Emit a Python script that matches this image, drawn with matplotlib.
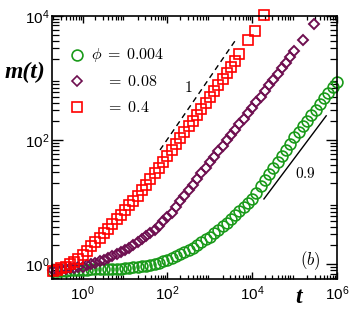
import matplotlib
matplotlib.use("Agg")
import matplotlib.pyplot as plt

plt.rcParams['font.family'] = ['Liberation Sans', 'DejaVu Sans']
plt.rcParams['mathtext.fontset'] = 'cm'

# time grid of the measurements (about ten per decade)
t_grid = [0.2, 0.251, 0.316, 0.398, 0.501, 0.631, 0.794, 1.0, 1.26, 1.58,
          2.0, 2.51, 3.16, 3.98, 5.01, 6.31, 7.94, 10, 12.6, 15.8,
          20.0, 25.1, 31.6, 39.8, 50.1, 63.1, 79.4, 100, 126, 158,
          200, 251, 316, 398, 501, 631, 794, 1000, 1260, 1580,
          2000, 2510, 3160, 3980, 5010, 6310, 7940, 1.0e4, 1.26e4, 1.58e4,
          2.0e4, 2.51e4, 3.16e4, 3.98e4, 5.01e4, 6.31e4, 7.94e4, 1.0e5, 1.26e5, 1.58e5,
          2.0e5, 2.51e5, 3.16e5, 3.98e5, 5.01e5, 6.31e5, 7.94e5, 1.0e6]

# phi = 0.4 (red squares)
t_red = t_grid[:45] + [8130, 11750, 19050]
m_red = [0.759, 0.807, 0.857, 0.912, 1.0, 1.096, 1.202, 1.403, 1.641, 1.919,
         2.239, 2.655, 3.148, 3.733, 4.426, 5.248, 6.252, 7.447, 8.872, 10.57,
         12.59, 15.49, 19.05, 23.44, 28.84, 35.48, 44.26, 55.21, 68.87, 85.9,
         107.2, 133.0, 165.2, 205.1, 254.7, 316.2, 394.5, 492.0, 613.8, 765.6,
         955, 1202, 1514, 1905, 2399, 4074, 5754, 10470]

# phi = 0.08 (purple diamonds)
t_pur = t_grid[:58] + [1.58e5, 2.95e5]
m_pur = [0.794, 0.811, 0.826, 0.843, 0.859, 0.877, 0.894, 0.912, 0.959, 1.007,
         1.059, 1.114, 1.17, 1.23, 1.334, 1.445, 1.567, 1.698, 1.841, 1.995,
         2.239, 2.512, 2.818, 3.162, 3.548, 4.169, 4.898, 5.754, 6.761, 8.318,
         10.23, 12.59, 15.49, 19.05, 23.44, 28.84, 35.48, 43.65, 53.46, 65.46,
         80.17, 98.2, 120.2, 147.2, 180.3, 220.8, 270.4, 331.1, 407.4, 501.2,
         616.6, 758.6, 933.3, 1153, 1426, 1762, 2178, 2692, 4140, 7413]

# phi = 0.004 (green circles)
t_grn = t_grid
m_grn = [0.759, 0.766, 0.774, 0.782, 0.789, 0.796, 0.805, 0.813, 0.817, 0.820,
         0.824, 0.828, 0.832, 0.836, 0.839, 0.843, 0.847, 0.851, 0.867, 0.883,
         0.899, 0.916, 0.933, 0.973, 1.014, 1.057, 1.102, 1.148, 1.236, 1.33,
         1.432, 1.542, 1.66, 1.837, 2.032, 2.249, 2.489, 2.754, 3.133, 3.565,
         4.055, 4.613, 5.248, 6.109, 7.112, 8.279, 9.638, 11.22, 14.13, 17.78,
         22.39, 28.18, 35.48, 44.46, 55.72, 69.82, 87.5, 109.6, 134.9, 166.0,
         204.2, 251.2, 309.0, 380.2, 467.7, 575.4, 707.9, 871]

# guide lines: slope 1 (dashed) and slope 0.9 (solid)
guide1_t = [67, 4100]
guide1_m = [69, 4100]
guide09_t = [1.9e4, 5.6e5]
guide09_m = [11.2, 245]

green = '#1a9a1a'
purple = '#6e0f50'
red = '#ff0000'

fig = plt.figure(figsize=(3.52, 3.11), dpi=100)
ax = fig.add_axes([0.148, 0.103, 0.809, 0.846])

ax.plot(t_grn, m_grn, 'o', ms=7.8, mfc='none', mec=green, mew=1.2, clip_on=False)
ax.plot(t_pur, m_pur, 'D', ms=5.6, mfc='none', mec=purple, mew=1.4, clip_on=False)
ax.plot(t_red, m_red, 's', ms=7.4, mfc='none', mec=red, mew=1.2, clip_on=False)

ax.plot(guide1_t, guide1_m, 'k--', lw=1.0, dashes=(4, 3))
ax.plot(guide09_t, guide09_m, 'k-', lw=1.0)

ax.set_xscale('log')
ax.set_yscale('log')
ax.set_xlim(0.19, 1e6)
ax.set_ylim(0.575, 1e4)
ax.set_xticks([1, 1e2, 1e4, 1e6])
ax.set_yticks([1, 1e2, 1e4])

for s in ax.spines.values():
    s.set_linewidth(1.2)
ax.tick_params(which='both', direction='in', top=True, right=True, labelsize=11)
ax.tick_params(axis='y', which='major', length=8, width=1.0, pad=2)
ax.tick_params(axis='y', which='minor', length=5, width=0.9)
ax.tick_params(axis='x', which='major', length=5, width=1.0, pad=4)
ax.tick_params(axis='x', which='minor', length=3, width=0.9)

# legend drawn by hand so the "=" signs line up
rows = [(0.852, 'o', green, 7.8, r'$\phi\;=\;0.004$', 0.137),
        (0.751, 'D', purple, 5.6, r'$=\;0.08$', 0.190),
        (0.652, 's', red, 7.4, r'$=\;0.4$', 0.190)]
for y, mk, c, ms, lab, xt in rows:
    ax.plot([0.088], [y], mk, ms=ms, mfc='none', mec=c, mew=1.2,
            transform=ax.transAxes, clip_on=False)
    ax.text(xt, y, lab, transform=ax.transAxes, fontsize=11.5, va='center')

ax.text(310, 690, r'$\mathbf{1}$', fontsize=11, ha='center', va='center')
ax.text(1.8e5, 29, r'$\mathbf{0.9}$', fontsize=11, ha='center', va='center')
ax.text(2.4e5, 1.15, r'$(b)$', fontsize=12, ha='center', va='center')

fig.text(0.071, 0.768, 'm(t)', family='Liberation Serif', style='italic',
         weight='bold', fontsize=17, ha='center', va='center')
fig.text(0.847, 0.045, 't', family='Liberation Serif', style='italic',
         weight='bold', fontsize=17, ha='center', va='center')

fig.savefig('out.png', dpi=100)
